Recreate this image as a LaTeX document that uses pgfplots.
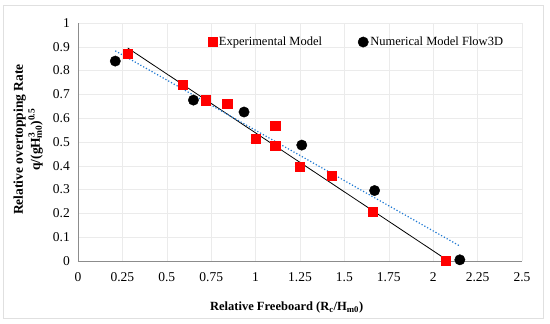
\documentclass[border=0pt]{standalone}
\usepackage{fontspec}
\setmainfont{Liberation Serif}
\usepackage{pgfplots}
\pgfplotsset{compat=1.18}
\definecolor{trendblue}{RGB}{30,120,210}
\begin{document}
\fontsize{12}{14}\selectfont
\begin{tikzpicture}[x=1pt,y=1pt]
\path[use as bounding box] (-78,-63) rectangle (472,261);
\draw[black!12, line width=0.6pt] (-75,-57) rectangle (465,256);
\begin{axis}[
  at={(0,0)}, anchor=south west,
  scale only axis, width=444pt, height=238pt,
  xmin=0, xmax=2.5, ymin=0, ymax=1,
  xtick={0,0.25,...,2.5},
  xticklabels={0,0.25,0.5,0.75,1,1.25,1.5,1.75,2,2.25,2.5},
  ytick={0,0.1,...,1.0},
  yticklabels={0,0.1,0.2,0.3,0.4,0.5,0.6,0.7,0.8,0.9,1},
  /pgf/number format/assume math mode=true,
  tick label style={font=\fontsize{13.5}{15}\selectfont},
  grid=major,
  grid style={black!8, line width=0.5pt},
  axis x line*=bottom, axis y line*=left,
  axis line style={black!45, line width=0.8pt},
  tick style={draw=none},
  xticklabel style={yshift=-7pt},
  yticklabel style={xshift=-4pt},
  xlabel={\textbf{Relative Freeboard (R\textsubscript{c}/H\textsubscript{m0})}},
  xlabel style={font=\fontsize{12.5}{14}\selectfont, at={(0.47,0)}, anchor=base, yshift=-50pt},
  ylabel={\textbf{Relative overtopping Rate}\\\textbf{q/(gH\textsuperscript{3}\kern-0.45em\textsubscript{m0})\textsuperscript{0.5}}},
  ylabel style={font=\fontsize{13.5}{17}\selectfont, align=center, at={(0,0.51)}, yshift=31pt},
  legend columns=2,
  legend style={draw=none, fill=none, at={(0.285,0.92)}, anchor=west,
    font=\fontsize{12.5}{14}\selectfont,
    /tikz/every even column/.append style={column sep=34pt}},
  legend cell align=left,
  clip=false,
]
\addplot[only marks, mark=square*, mark size=4.6pt, color=red, mark options={fill=red, draw=red}]
coordinates {
(0.28,0.87) (0.59,0.74) (0.72,0.676) (0.84,0.66) (1.0,0.513) (1.11,0.57)
(1.11,0.485) (1.25,0.395) (1.43,0.36) (1.66,0.206) (2.07,0.0)
};
\addlegendentry{Experimental Model}
\addplot[only marks, mark=*, mark size=5.2pt, color=black]
coordinates {
(0.21,0.84) (0.65,0.676) (0.935,0.626) (1.26,0.487) (1.67,0.296) (2.15,0.005)
};
\addlegendentry{Numerical Model Flow3D}
\addplot[black, line width=0.8pt, forget plot] coordinates {(0.28,0.895) (2.07,0.008)};
\addplot[trendblue, line width=1.2pt, dotted, forget plot] coordinates {(0.21,0.883) (2.15,0.063)};
\end{axis}
\end{tikzpicture}
\end{document}
